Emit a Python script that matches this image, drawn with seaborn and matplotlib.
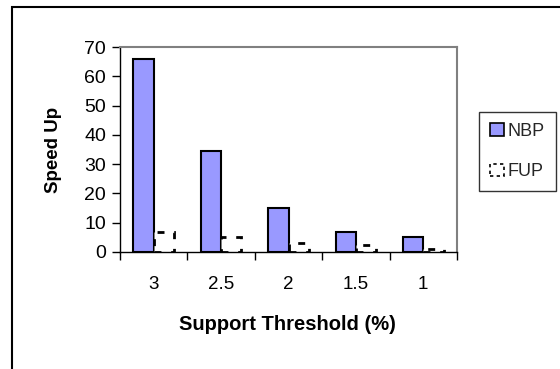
import matplotlib
matplotlib.use("Agg")
import matplotlib.pyplot as plt
import seaborn as sns
import pandas as pd
from matplotlib.patches import Patch, Rectangle

# Speed-up of NBP vs FUP at decreasing support thresholds
thresholds = ["3", "2.5", "2", "1.5", "1"]
nbp_speedup = [66, 34.5, 15, 7, 5.2]
fup_speedup = [7, 5, 3, 2.5, 1]
series = ["NBP", "FUP"]

df = pd.DataFrame({
    "threshold": thresholds * 2,
    "speedup": nbp_speedup + fup_speedup,
    "method": [series[0]] * len(thresholds) + [series[1]] * len(thresholds),
})

sns.set_theme(style="white")
plt.rcParams["font.family"] = ["Liberation Sans", "DejaVu Sans"]

W, H = 560, 369
fig = plt.figure(figsize=(W / 100, H / 100), dpi=100)
ax = fig.add_axes([120 / W, 1 - 252 / H, (457 - 120) / W, (252 - 47) / H])

sns.barplot(data=df, x="threshold", y="speedup", hue="method", order=thresholds,
            hue_order=series, palette=["#9999FF", "white"], width=0.6,
            edgecolor="black", linewidth=1.5, legend=False, ax=ax, saturation=1)

n = len(thresholds)
for i, p in enumerate(ax.patches[:2 * n]):
    if i >= n:
        p.set_facecolor("white")
        p.set_edgecolor("black")
        p.set_linestyle((0, (2.5, 3.5)))
        p.set_linewidth(2)

ax.set_ylim(0, 70)
ax.set_yticks(range(0, 71, 10))
ax.set_xlim(-0.5, n - 0.5)
ax.set_xticks([i - 0.5 for i in range(n + 1)], minor=False)
ax.set_xticklabels([""] * (n + 1))
ax.set_xticks(range(n), minor=True)
ax.set_xticklabels(thresholds, minor=True)
ax.tick_params(axis="x", which="major", direction="out", length=6, width=1,
               color="black", bottom=True)
ax.tick_params(axis="x", which="minor", length=0, pad=17, labelsize=13.5,
               labelcolor="black")
ax.tick_params(axis="y", direction="out", length=6, width=1, color="black",
               left=True, pad=4, labelsize=14, labelcolor="black")

for s in ["left", "bottom"]:
    ax.spines[s].set_color("black")
    ax.spines[s].set_linewidth(1)
for s in ["top", "right"]:
    ax.spines[s].set_visible(True)
    ax.spines[s].set_color("#808080")
    ax.spines[s].set_linewidth(1.5)

ax.set_xlabel("")
ax.set_ylabel("Speed Up", fontsize=13.5, fontweight="bold", color="black")
ax.yaxis.set_label_coords((62 - 120) / (457 - 120), 0.5)

fig.text(287 / W, 1 - 325 / H, "Support Threshold (%)", ha="center", va="center",
         fontsize=14.5, fontweight="bold", color="black")

# outer chart frame
fig.add_artist(Rectangle((12 / W, -0.1), 1.2, 1 - 7 / H + 0.1, transform=fig.transFigure,
                         fill=False, edgecolor="black", linewidth=1.5))

handles = [Patch(facecolor="#9999FF", edgecolor="black", linewidth=1.2, label="NBP"),
           Patch(facecolor="white", edgecolor="black", linestyle=(0, (2, 2)),
                 linewidth=1.2, label="FUP")]
leg = fig.legend(handles=handles, loc="upper left",
                 bbox_to_anchor=(479 / W, 1 - 112 / H), frameon=True, fancybox=False,
                 fontsize=13, handlelength=0.8, handleheight=0.7, handletextpad=0.2,
                 labelspacing=1.3, borderpad=0.6, borderaxespad=0)
leg.get_frame().set_edgecolor("black")
leg.get_frame().set_linewidth(1)

fig.savefig("out.png", dpi=100, facecolor="white")
